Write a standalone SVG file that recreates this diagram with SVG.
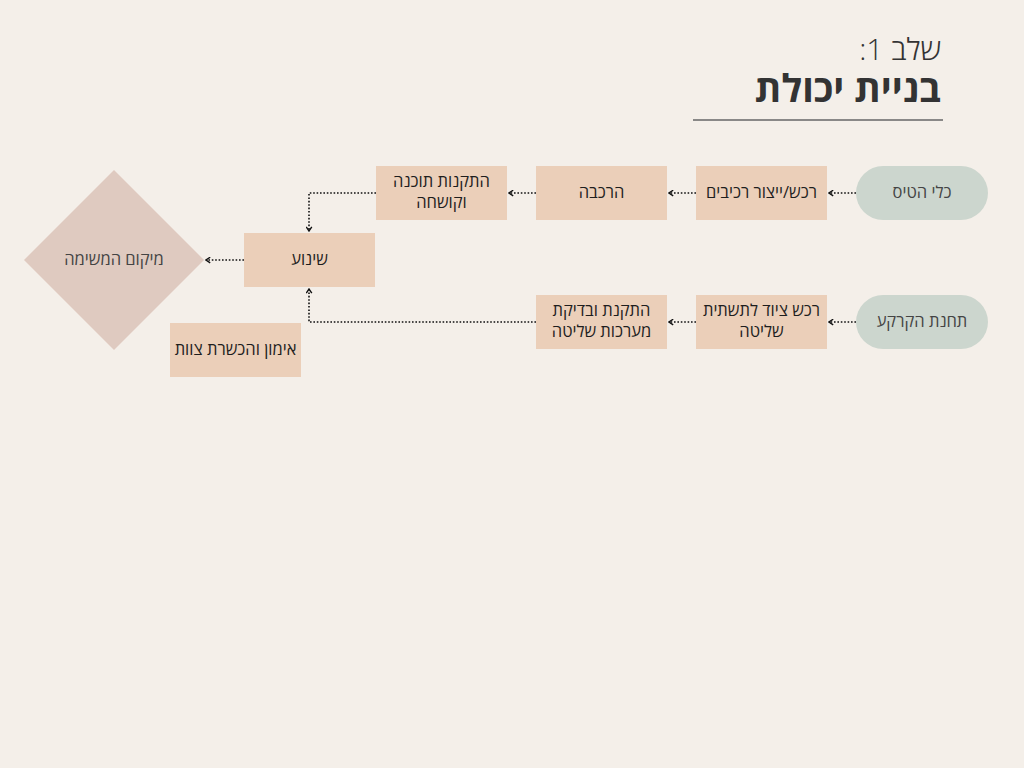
<svg xmlns="http://www.w3.org/2000/svg" width="1024" height="768" viewBox="0 0 1024 768">
<style>
text{font-family:"Open Sans","DejaVu Sans",sans-serif;direction:rtl}
.box{fill:#ebcfb9}
.pill{fill:#ccd6ce}
.diam{fill:#dfcac0}
.t{font-size:16.5px;fill:#1e1e1e;text-anchor:middle}
.tg{font-size:16.5px;fill:#444;text-anchor:middle}
.c{fill:none;stroke:#111;stroke-width:1.6;stroke-dasharray:1.6 1.8}
</style>
<defs>
<marker id="ah" viewBox="0 0 10 10" refX="8" refY="5" markerWidth="7" markerHeight="7" orient="auto" markerUnits="userSpaceOnUse">
<path d="M2,1 L8,5 L2,9" fill="none" stroke="#111" stroke-width="2"/>
</marker>
</defs>
<rect width="1024" height="768" fill="#f4efe9"/>
<g id="title">
<text x="941" y="60" style="font-size:30px;font-weight:300;fill:#333;text-anchor:start">שלב 1:</text>
<text x="941" y="102" style="font-size:38px;font-weight:700;fill:#333;text-anchor:start">בניית יכולת</text>
<line x1="693" y1="120" x2="943" y2="120" stroke="#666" stroke-width="1.5"/>
</g>
<g id="connectors">
<path class="c" d="M856,193 H829" marker-end="url(#ah)"/>
<path class="c" d="M696,193 H669" marker-end="url(#ah)"/>
<path class="c" d="M536,193 H509" marker-end="url(#ah)"/>
<path class="c" d="M376,193 H309 V231" marker-end="url(#ah)"/>
<path class="c" d="M856,322 H829" marker-end="url(#ah)"/>
<path class="c" d="M696,322 H669" marker-end="url(#ah)"/>
<path class="c" d="M536,322 H309 V289" marker-end="url(#ah)"/>
<path class="c" d="M244,260 H206" marker-end="url(#ah)"/>
</g>
<g id="n-aircraft">
<rect class="pill" x="856" y="166" width="132" height="54" rx="27"/>
<text class="tg" x="922" y="198">כלי הטיס</text>
</g>
<g id="n-procure">
<rect class="box" x="696" y="166" width="131" height="54"/>
<text class="t" x="761.5" y="198">רכש/ייצור רכיבים</text>
</g>
<g id="n-assembly">
<rect class="box" x="536" y="166" width="131" height="54"/>
<text class="t" x="601.5" y="198">הרכבה</text>
</g>
<g id="n-software">
<rect class="box" x="376" y="166" width="131" height="54"/>
<text class="t" x="441.5" y="187">התקנות תוכנה</text>
<text class="t" x="441.5" y="208">וקושחה</text>
</g>
<g id="n-transport">
<rect class="box" x="244" y="233" width="131" height="54"/>
<text class="t" x="309.5" y="265">שינוע</text>
</g>
<g id="n-mission">
<polygon class="diam" points="114,170 204,260 114,350 24,260"/>
<text class="tg" x="114" y="265">מיקום המשימה</text>
</g>
<g id="n-training">
<rect class="box" x="170" y="323" width="131" height="54"/>
<text class="t" x="235.5" y="355">אימון והכשרת צוות</text>
</g>
<g id="n-ground">
<rect class="pill" x="856" y="295" width="132" height="54" rx="27"/>
<text class="tg" x="922" y="327">תחנת הקרקע</text>
</g>
<g id="n-equip">
<rect class="box" x="696" y="295" width="131" height="54"/>
<text class="t" x="761.5" y="316">רכש ציוד לתשתית</text>
<text class="t" x="761.5" y="337">שליטה</text>
</g>
<g id="n-install">
<rect class="box" x="536" y="295" width="131" height="54"/>
<text class="t" x="601.5" y="316">התקנת ובדיקת</text>
<text class="t" x="601.5" y="337">מערכות שליטה</text>
</g>
</svg>
